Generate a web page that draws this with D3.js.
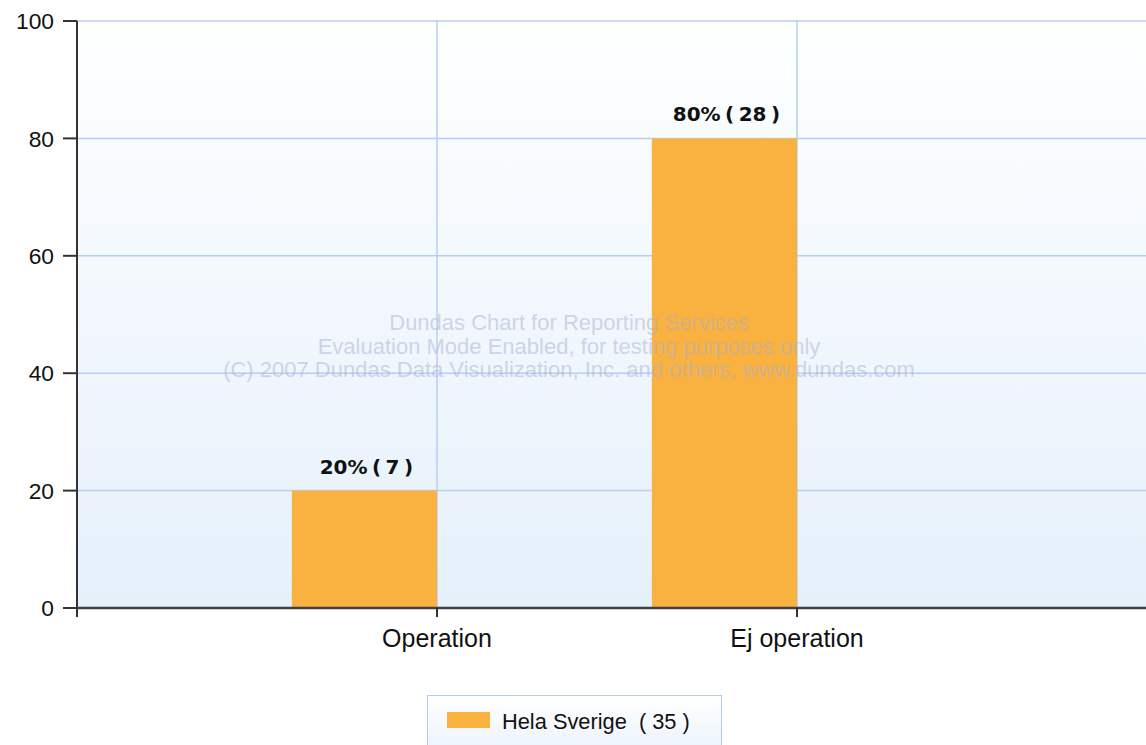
<!DOCTYPE html>
<html lang="sv">
<head>
    <meta charset="UTF-8">
    <title>Operation</title>
    <style>
        body { margin: 0; background: #fff; }
        svg { display: block; }
        .tick-label { font: 22.8px "Liberation Sans", Arial, sans-serif; fill: #111; }
        .cat-label { font: 25px "Liberation Sans", Arial, sans-serif; fill: #111; }
        .bar-label { font: bold 20px "DejaVu Sans", Verdana, sans-serif; fill: #111; word-spacing: -2.5px; }
        .legend text { font: 21.8px "Liberation Sans", Arial, sans-serif; fill: #111; }
        .watermark { font: 22px "Liberation Sans", Arial, sans-serif; fill: #aab0d2; fill-opacity: 0.5; }
    </style>
</head>
<body>
    <svg width="1146" height="745"></svg>
    <script src="https://d3js.org/d3.v7.min.js"></script>
    <script>
        const categories = ["Operation", "Ej operation"];
        const percents = [20, 80];
        const counts = [7, 28];
        const seriesName = "Hela Sverige";
        const seriesTotal = 35;
        const yTicks = [0, 20, 40, 60, 80, 100];

        const svg = d3.select("svg");
        const margin = { left: 77, top: 21, right: 1157, bottom: 608 };

        const x = d3.scalePoint().domain(categories).range([margin.left, margin.right]).padding(1);
        const y = d3.scaleLinear().domain([0, 100]).range([margin.bottom, margin.top]);
        const barW = x.step() / 2.48;

        // plot background gradient
        const defs = svg.append("defs");
        const grad = defs.append("linearGradient").attr("id", "bg")
            .attr("x1", 0).attr("y1", 0).attr("x2", 0).attr("y2", 1);
        grad.append("stop").attr("offset", "0%").attr("stop-color", "#feffff");
        grad.append("stop").attr("offset", "100%").attr("stop-color", "#e5f0fb");
        const lg = defs.append("linearGradient").attr("id", "lg")
            .attr("x1", 0).attr("y1", 0).attr("x2", 0).attr("y2", 1);
        lg.append("stop").attr("offset", "0%").attr("stop-color", "#ffffff");
        lg.append("stop").attr("offset", "100%").attr("stop-color", "#eaf2fc");

        svg.append("rect")
            .attr("x", margin.left).attr("y", margin.top)
            .attr("width", margin.right - margin.left)
            .attr("height", margin.bottom - margin.top)
            .attr("fill", "url(#bg)");

        // grid
        svg.append("g").selectAll("line")
            .data(yTicks.slice(1))
            .enter().append("line")
            .attr("x1", margin.left).attr("x2", margin.right)
            .attr("y1", d => y(d)).attr("y2", d => y(d))
            .attr("stroke", "#b4cff2").attr("stroke-width", 1.5);
        svg.append("g").selectAll("line")
            .data(categories)
            .enter().append("line")
            .attr("x1", d => x(d)).attr("x2", d => x(d))
            .attr("y1", margin.top).attr("y2", margin.bottom)
            .attr("stroke", "#b4cff2").attr("stroke-width", 1.5);

        // watermark
        const wm = ["Dundas Chart for Reporting Services",
            "Evaluation Mode Enabled, for testing purposes only",
            "(C) 2007 Dundas Data Visualization, Inc. and others, www.dundas.com"];

        // bars
        svg.append("g").selectAll("rect")
            .data(categories)
            .enter().append("rect")
            .attr("x", d => x(d) - barW)
            .attr("y", (d, i) => y(percents[i]))
            .attr("width", barW)
            .attr("height", (d, i) => y(0) - y(percents[i]))
            .attr("fill", "#f9b13f");

        svg.append("g").selectAll("text")
            .data(wm)
            .enter().append("text")
            .attr("class", "watermark")
            .attr("x", 569)
            .attr("y", (d, i) => 330 + i * 23.5)
            .attr("text-anchor", "middle")
            .text(d => d);

        // bar labels
        svg.append("g").selectAll("text")
            .data(categories)
            .enter().append("text")
            .attr("class", "bar-label")
            .attr("x", d => x(d) - barW / 2 + 2)
            .attr("y", (d, i) => y(percents[i]) - 17)
            .attr("text-anchor", "middle")
            .text((d, i) => percents[i] + "% ( " + counts[i] + " )");

        // axes
        svg.append("line")
            .attr("x1", margin.left).attr("x2", margin.left)
            .attr("y1", margin.top).attr("y2", margin.bottom + 9)
            .attr("stroke", "#333").attr("stroke-width", 2);
        svg.append("line")
            .attr("x1", margin.left).attr("x2", margin.right)
            .attr("y1", margin.bottom).attr("y2", margin.bottom)
            .attr("stroke", "#3d4146").attr("stroke-width", 2.5);

        const yt = svg.append("g").selectAll("g")
            .data(yTicks)
            .enter().append("g")
            .attr("transform", d => `translate(0,${y(d)})`);
        yt.append("line").attr("x1", margin.left - 14).attr("x2", margin.left)
            .attr("stroke", "#333").attr("stroke-width", 2);
        yt.append("text").attr("class", "tick-label")
            .attr("x", 54).attr("dy", "0.36em")
            .attr("text-anchor", "end")
            .text(d => d);

        const xt = svg.append("g").selectAll("g")
            .data(categories)
            .enter().append("g")
            .attr("transform", d => `translate(${x(d)},0)`);
        xt.append("line").attr("y1", margin.bottom).attr("y2", margin.bottom + 9)
            .attr("stroke", "#333").attr("stroke-width", 2);
        xt.append("text").attr("class", "cat-label")
            .attr("y", 647).attr("text-anchor", "middle")
            .text(d => d);

        // legend
        const legend = svg.append("g").attr("class", "legend");
        legend.append("rect")
            .attr("x", 427.5).attr("y", 695.5)
            .attr("width", 294).attr("height", 60)
            .attr("fill", "url(#lg)").attr("stroke", "#b3cbec");
        legend.append("rect")
            .attr("x", 447).attr("y", 712)
            .attr("width", 43).attr("height", 16)
            .attr("fill", "#f9b13f");
        legend.append("text")
            .attr("x", 502).attr("y", 729)
            .attr("xml:space", "preserve")
            .text(seriesName + "  ( " + seriesTotal + " )");
    </script>
</body>
</html>
